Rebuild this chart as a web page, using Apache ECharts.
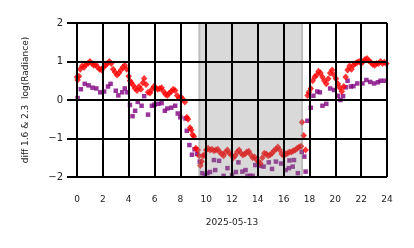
<!DOCTYPE html>
<html>
<head>
<meta charset="utf-8">
<script src="https://cdn.jsdelivr.net/npm/echarts@6/dist/echarts.min.js"></script>
<style>html,body{margin:0;padding:0;background:#fff;}#c{width:414px;height:248px;}</style>
</head>
<body>
<div id="c"></div>
<script>
// hours of day and values
const redHours = [0.0,0.05,0.15,0.25,0.4,0.55,0.7,0.85,1.0,1.15,1.3,1.45,1.6,1.75,1.9,2.05,2.2,2.35,2.5,2.65,2.8,2.95,3.1,3.25,3.4,3.55,3.7,3.85,4.0,4.1,4.2,4.35,4.5,4.65,4.8,4.95,5.1,5.2,5.35,5.5,5.65,5.8,5.95,6.1,6.25,6.4,6.55,6.7,6.85,7.0,7.15,7.3,7.45,7.6,7.75,7.9,8.05,8.2,8.35,8.5,8.6,8.75,8.85,8.95,9.05,9.2,9.35,9.45,9.55,9.65,9.75,9.85,10.0,10.15,10.3,10.45,10.6,10.75,10.9,11.05,11.2,11.35,11.5,11.65,11.8,11.95,12.1,12.25,12.4,12.55,12.7,12.85,13.0,13.15,13.3,13.45,13.6,13.75,13.9,14.05,14.2,14.35,14.5,14.65,14.8,14.95,15.1,15.25,15.4,15.55,15.7,15.85,16.0,16.15,16.3,16.45,16.6,16.75,16.9,17.05,17.2,17.35,17.42,17.55,17.7,17.85,17.95,18.1,18.25,18.4,18.55,18.7,18.85,19.0,19.15,19.3,19.45,19.6,19.75,19.9,20.05,20.2,20.35,20.5,20.65,20.8,20.95,21.1,21.25,21.4,21.55,21.7,21.85,22.0,22.15,22.3,22.45,22.6,22.75,22.9,23.05,23.2,23.35,23.5,23.65,23.8,23.95];
const redValues = [0.6,0.52,0.62,0.8,0.88,0.85,0.92,0.95,1.0,0.95,0.9,0.92,0.85,0.8,0.78,0.85,0.9,0.95,1.0,0.95,0.8,0.72,0.65,0.7,0.78,0.85,0.9,0.8,0.62,0.5,0.45,0.38,0.3,0.25,0.35,0.28,0.45,0.56,0.4,0.2,0.18,0.28,0.35,0.32,0.28,0.3,0.32,0.22,0.15,0.12,0.18,0.22,0.28,0.25,0.12,0.05,0.08,0.02,-0.05,-0.45,-0.5,-0.72,-0.78,-0.9,-0.95,-1.25,-1.3,-1.45,-1.7,-1.6,-1.45,-1.43,-1.3,-1.25,-1.3,-1.28,-1.32,-1.3,-1.28,-1.35,-1.4,-1.45,-1.35,-1.3,-1.38,-1.42,-1.5,-1.45,-1.35,-1.3,-1.38,-1.43,-1.4,-1.35,-1.33,-1.42,-1.5,-1.48,-1.55,-1.6,-1.65,-1.5,-1.38,-1.4,-1.45,-1.42,-1.38,-1.32,-1.28,-1.22,-1.3,-1.4,-1.45,-1.4,-1.38,-1.35,-1.35,-1.32,-1.3,-1.25,-1.22,-1.2,-0.58,-0.92,-1.3,0.12,0.2,0.3,0.5,0.6,0.65,0.75,0.7,0.6,0.5,0.42,0.55,0.7,0.78,0.65,0.55,0.42,0.32,0.22,0.35,0.6,0.78,0.88,0.8,0.9,0.95,0.98,1.0,0.95,1.0,1.05,1.08,1.02,0.98,0.92,0.9,0.95,0.95,1.0,0.95,0.98,0.95];
const purpleHours = [0.05,0.3,0.6,0.9,1.2,1.5,1.8,2.1,2.4,2.6,3.0,3.2,3.5,3.7,3.9,4.1,4.3,4.5,4.7,5.0,5.2,5.5,5.8,6.0,6.3,6.55,6.8,7.0,7.3,7.6,7.8,8.0,8.4,8.5,8.7,8.9,9.1,9.3,9.5,9.7,9.9,10.1,10.3,10.6,10.7,11.0,11.35,11.65,12.0,12.3,12.5,12.8,13.05,13.2,13.4,13.6,13.8,14.2,14.45,14.85,15.1,15.4,15.8,16.15,16.4,16.45,16.7,16.8,17.1,17.4,17.6,17.7,17.84,18.1,18.3,18.6,18.8,19.0,19.3,19.6,19.9,20.2,20.4,20.6,20.8,20.95,21.2,21.4,21.7,22.1,22.4,22.7,23.0,23.3,23.5,23.8];
const purpleValues = [0.05,0.28,0.42,0.38,0.32,0.3,0.2,0.22,0.35,0.42,0.24,0.12,0.2,0.3,0.2,-0.13,-0.42,-0.28,-0.05,-0.15,0.1,-0.38,-0.15,-0.12,-0.1,-0.08,-0.28,-0.22,-0.2,-0.15,-0.35,-0.45,-0.48,-0.8,-1.17,-1.42,-1.28,-1.4,-1.6,-1.9,-1.95,-1.9,-1.87,-1.56,-1.82,-1.58,-1.97,-1.77,-1.95,-1.87,-1.62,-1.86,-1.82,-1.97,-1.97,-1.97,-1.69,-1.71,-1.73,-1.62,-1.79,-1.6,-1.65,-1.82,-1.77,-1.57,-1.73,-1.56,-1.9,-1.35,-1.47,-1.86,-0.54,-0.2,0.11,0.22,0.2,-0.15,-0.1,0.3,0.26,0.11,0.0,0.1,0.33,0.5,0.35,0.36,0.43,0.43,0.52,0.47,0.43,0.46,0.5,0.5];
const nightSpan = [9.4, 17.5];
const xTicks = [0,2,4,6,8,10,12,14,16,18,20,22,24];
const yTicks = [-2,-1,0,1,2];
const xTitle = '2025-05-13';
const yTitle = 'diff 1.6 & 2.3  log(Radiance)';

const redData = redHours.map((h,i)=>[h, redValues[i]]);
const purpleData = purpleHours.map((h,i)=>[h, purpleValues[i]]);
const fmt = v => (v < 0 ? '\u2212' + Math.abs(v) : String(v));
const font = 'DejaVu Sans';
const chart = echarts.init(document.getElementById('c'), null, {renderer:'canvas'});
chart.setOption({
  animation: false,
  backgroundColor: '#fff',
  grid: {left: 77, right: 27, top: 23, bottom: 71},
  xAxis: {
    type: 'value', min: xTicks[0], max: xTicks[xTicks.length-1], interval: 2, z: 10,
    axisLine: {show: false},
    axisTick: {show: true, length: 9, lineStyle: {color: '#000', width: 2}},
    splitLine: {show: true, lineStyle: {color: '#000', width: 2}},
    axisLabel: {margin: 18, fontFamily: font, fontSize: 9, color: '#222', formatter: fmt},
    name: xTitle, nameLocation: 'middle', nameGap: 41,
    nameTextStyle: {fontFamily: font, fontSize: 9, color: '#222'}
  },
  yAxis: {
    type: 'value', min: yTicks[0], max: yTicks[yTicks.length-1], interval: 1, z: 10,
    axisLine: {show: false},
    axisTick: {show: true, length: 10, lineStyle: {color: '#000', width: 2}},
    splitLine: {show: true, lineStyle: {color: '#000', width: 2}},
    axisLabel: {margin: 14, fontFamily: font, fontSize: 10, color: '#222', formatter: fmt},
    name: yTitle, nameLocation: 'middle', nameGap: 47,
    nameTextStyle: {fontFamily: font, fontSize: 9, color: '#222'}
  },
  series: [
    {type: 'scatter', data: purpleData, symbol: 'rect', symbolSize: 4.5,
     itemStyle: {color: '#800080'}, z: 2, silent: true},
    {type: 'scatter', data: redData, symbol: 'diamond', symbolSize: [6.5, 7],
     itemStyle: {color: '#ff0000'}, z: 3, silent: true},
    {type: 'line', data: [], z: 5, silent: true,
     markArea: {silent: true, z: 5, itemStyle: {color: 'rgba(128,128,128,0.3)'},
       data: [
         [{xAxis: nightSpan[0]}, {xAxis: nightSpan[1]}],
         [{xAxis: nightSpan[0]}, {xAxis: nightSpan[0] + 0.15}],
         [{xAxis: nightSpan[1] - 0.15}, {xAxis: nightSpan[1]}]
       ]}}
  ]
});
</script>
</body>
</html>
